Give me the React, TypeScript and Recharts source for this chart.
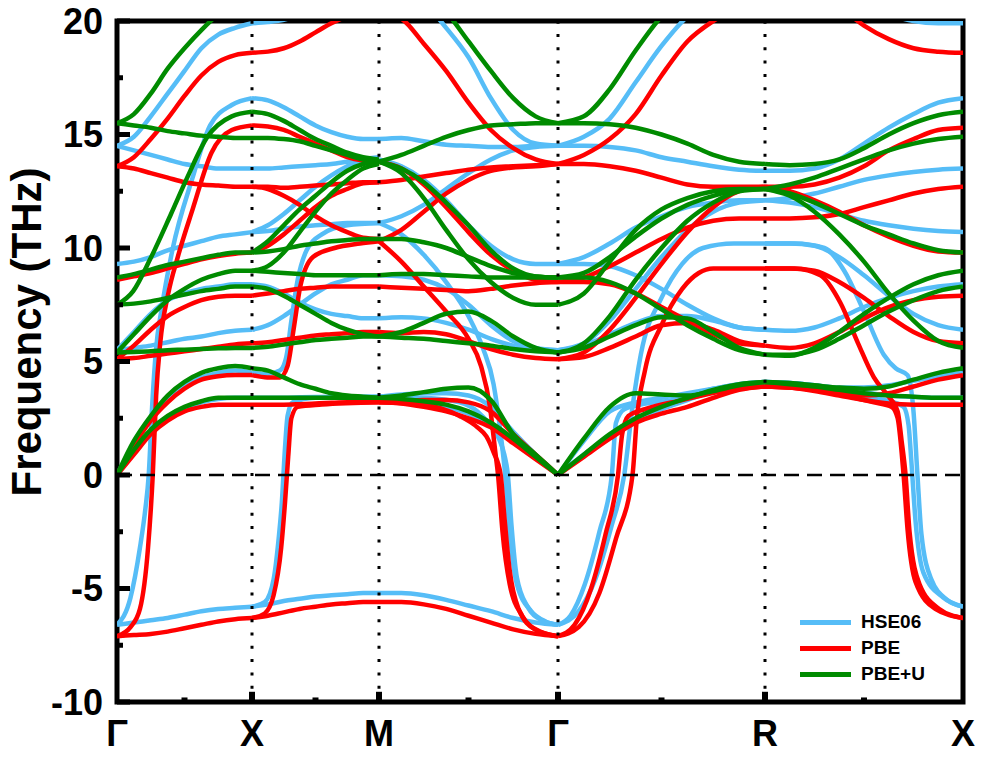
import React from "react";
import { LineChart, Line, XAxis, YAxis, ReferenceLine, ReferenceArea } from "recharts";

type Curve = number[] | [number, number][];

// high-symmetry path (k-distance along path) and labels
const PATH_LABELS = ["Γ", "X", "M", "Γ", "R", "X"];
const PATH_K = [0, 135, 262, 441, 648, 846];
const Y_TICKS = [-10, -5, 0, 5, 10, 15, 20];
const Y_MINOR = [-7.5, -2.5, 2.5, 7.5, 12.5, 17.5];

const METHODS = ["HSE06", "PBE", "PBE+U"];
const COLORS = ["#56bdf7", "#ff0000", "#008b00"];

// curves per segment: plain list = evenly spaced along the segment,
// pairs = [fraction of segment, frequency]

// ---- HSE06 ----
const hseGX: Curve[] = [
  [14.5, 14.9, 15.8, 16.8, 17.8, 18.8, 19.4, 19.7, 19.9],
  [14.5, 14.3, 14.1, 13.9, 13.7, 13.6, 13.5, 13.5, 13.5],
  [9.3, 9.4, 9.6, 9.9, 10.1, 10.3, 10.5, 10.6, 10.7],
  [[0, -6.6], [0.1, -5.4], [0.17, -3.2], [0.21, -1.5], [0.235, 0], [0.26, 3.0], [0.29, 5.6], [0.33, 7.3], [0.41, 9.9], [0.56, 13.1], [0.69, 15.4], [0.85, 16.3], [1, 16.6]],
  [5.5, 6.3, 7.1, 7.7, 8.0, 8.2, 8.3, 8.4, 8.4],
  [5.5, 5.6, 5.7, 5.85, 6.0, 6.1, 6.25, 6.35, 6.4],
  [0, 1.4, 2.5, 3.3, 3.9, 4.3, 4.5, 4.6, 4.5],
  [0, 1.0, 1.9, 2.5, 2.9, 3.2, 3.35, 3.4, 3.4],
  [-6.6, -6.5, -6.4, -6.3, -6.15, -6.0, -5.9, -5.85, -5.8],
];
const hseXM: Curve[] = [
  [19.9, 19.95, 20.05, 20.3, 20.6, 20.9, 21.1, 21.25, 21.3],
  [16.6, 16.5, 16.2, 15.8, 15.4, 15.1, 14.9, 14.8, 14.8],
  [13.5, 13.5, 13.55, 13.6, 13.65, 13.7, 13.8, 13.9, 13.9],
  [10.7, 10.75, 10.85, 10.95, 11.0, 11.05, 11.1, 11.1, 11.1],
  [10.7, 11.0, 11.5, 12.1, 12.7, 13.2, 13.6, 13.9, 14.0],
  [8.4, 8.3, 8.0, 7.6, 7.3, 7.1, 7.0, 6.9, 6.9],
  [6.4, 6.6, 7.0, 7.5, 8.0, 8.4, 8.6, 8.8, 8.8],
  [[0, 4.5], [0.12, 4.45], [0.22, 4.6], [0.27, 5.2], [0.31, 6.8], [0.36, 8.6], [0.43, 9.9], [0.55, 10.6], [0.75, 11.0], [1, 11.1]],
  [3.4, 3.4, 3.4, 3.42, 3.44, 3.45, 3.45, 3.45, 3.45],
  [[0, -5.8], [0.1, -5.6], [0.17, -4.6], [0.21, -2.8], [0.235, -1.2], [0.26, 1.2], [0.28, 2.6], [0.32, 3.2], [0.5, 3.4], [1, 3.45]],
  [-5.8, -5.7, -5.55, -5.45, -5.35, -5.3, -5.25, -5.2, -5.2],
];
const hseMG: Curve[] = [
  [21.3, 21.2, 20.8, 19.7, 18.4, 16.6, 15.2, 14.6, 14.5],
  [14.8, 14.85, 14.7, 14.55, 14.5, 14.45, 14.45, 14.5, 14.5],
  [11.1, 11.4, 11.9, 12.6, 13.3, 13.9, 14.3, 14.45, 14.5],
  [13.9, 13.6, 13.0, 12.1, 11.0, 10.1, 9.5, 9.3, 9.3],
  [[0, 11.1], [0.125, 10.6], [0.25, 9.7], [0.375, 8.5], [0.5, 7.0], [0.58, 5.6], [0.64, 4.0], [0.68, 1.8], [0.705, 0], [0.73, -2.5], [0.77, -4.8], [0.85, -6.0], [0.93, -6.45], [1, -6.6]],
  [8.8, 8.75, 8.6, 8.2, 7.5, 6.6, 5.9, 5.6, 5.5],
  [6.9, 6.95, 6.9, 6.7, 6.4, 6.0, 5.7, 5.55, 5.5],
  [3.45, 3.55, 3.6, 3.6, 3.5, 3.0, 1.9, 0.9, 0],
  [3.45, 3.35, 3.2, 3.0, 2.7, 2.2, 1.5, 0.75, 0],
  [[0, 3.45], [0.25, 3.4], [0.45, 3.2], [0.55, 2.8], [0.62, 2.2], [0.67, 1.6], [0.7, 0.9], [0.72, 0], [0.74, -2.2], [0.77, -4.5], [0.83, -5.8], [0.91, -6.4], [1, -6.6]],
  [-5.2, -5.2, -5.3, -5.5, -5.75, -6.0, -6.3, -6.5, -6.6],
];
const hseGR: Curve[] = [
  [14.5, 14.9, 15.7, 17.3, 18.9, 20.2, 21.0, 21.5, 21.7],
  [14.5, 14.5, 14.45, 14.3, 14.0, 13.8, 13.6, 13.45, 13.4],
  [9.3, 9.6, 10.2, 10.9, 11.4, 11.8, 12.0, 12.1, 12.1],
  [9.3, 9.3, 9.2, 8.8, 8.2, 7.5, 6.9, 6.5, 6.4],
  [5.5, 5.7, 6.2, 6.7, 7.0, 7.0, 6.8, 6.5, 6.4],
  [5.5, 5.8, 6.8, 8.2, 9.6, 10.8, 11.6, 12.0, 12.1],
  [[0, -6.6], [0.1, -6.0], [0.18, -4.6], [0.26, -2.2], [0.32, 0], [0.36, 3.0], [0.4, 5.3], [0.5, 7.8], [0.6, 9.3], [0.7, 10.0], [0.85, 10.2], [1, 10.2]],
  [[0, -6.6], [0.06, -6.2], [0.13, -4.8], [0.2, -2.5], [0.26, 0], [0.28, 2.3], [0.32, 2.9], [0.4, 3.1], [0.55, 3.3], [0.75, 3.8], [1, 4.1]],
  [0, 1.5, 2.8, 3.2, 3.4, 3.6, 3.8, 4.0, 4.1],
  [0, 0.9, 1.7, 2.4, 2.9, 3.3, 3.7, 4.0, 4.1],
];
const hseRX: Curve[] = [
  [21.7, 21.7, 21.5, 21.2, 20.8, 20.3, 20.0, 19.9, 19.9],
  [13.4, 13.4, 13.5, 13.9, 14.6, 15.3, 15.9, 16.4, 16.6],
  [12.1, 12.2, 12.4, 12.7, 13.0, 13.2, 13.35, 13.45, 13.5],
  [12.1, 12.0, 11.8, 11.5, 11.2, 11.0, 10.85, 10.75, 10.7],
  [6.4, 6.35, 6.5, 6.9, 7.4, 7.8, 8.1, 8.3, 8.4],
  [10.2, 10.2, 10.1, 9.6, 8.8, 7.9, 7.1, 6.6, 6.4],
  [[0, 10.2], [0.15, 10.2], [0.3, 10.0], [0.4, 9.0], [0.5, 7.2], [0.6, 5.3], [0.66, 4.7], [0.72, 4.4], [0.75, 2.8], [0.77, 0], [0.79, -2.6], [0.84, -4.6], [0.92, -5.5], [1, -5.8]],
  [[0, 4.1], [0.2, 4.0], [0.4, 3.7], [0.55, 3.4], [0.65, 3.2], [0.7, 3.0], [0.725, 2.2], [0.74, 0.5], [0.76, -2], [0.8, -4.3], [0.9, -5.4], [1, -5.8]],
  [4.1, 4.05, 3.95, 3.8, 3.65, 3.5, 3.45, 3.4, 3.4],
  [4.1, 4.05, 3.95, 3.85, 3.85, 3.95, 4.15, 4.35, 4.5],
];

// ---- PBE ----
const pbeGX: Curve[] = [
  [13.6, 14.0, 14.8, 15.7, 16.7, 17.6, 18.2, 18.5, 18.6],
  [13.6, 13.5, 13.3, 13.1, 12.9, 12.8, 12.75, 12.7, 12.7],
  [8.6, 8.75, 8.9, 9.1, 9.3, 9.5, 9.65, 9.75, 9.8],
  [[0, -7.1], [0.1, -6.7], [0.17, -5.9], [0.23, -3.2], [0.265, 0], [0.29, 3.5], [0.32, 5.8], [0.38, 8.0], [0.45, 9.6], [0.56, 11.7], [0.7, 14.2], [0.85, 15.2], [1, 15.4]],
  [5.1, 5.7, 6.4, 7.0, 7.4, 7.7, 7.85, 7.9, 7.9],
  [5.1, 5.15, 5.25, 5.35, 5.45, 5.55, 5.65, 5.75, 5.8],
  [0, 1.3, 2.4, 3.2, 3.8, 4.2, 4.35, 4.4, 4.4],
  [0, 0.9, 1.8, 2.4, 2.8, 3.0, 3.1, 3.1, 3.1],
  [-7.1, -7.05, -7.0, -6.9, -6.75, -6.6, -6.45, -6.35, -6.3],
];
const pbeXM: Curve[] = [
  [18.6, 18.65, 18.8, 19.1, 19.5, 19.9, 20.2, 20.35, 20.4],
  [15.4, 15.35, 15.2, 14.9, 14.6, 14.3, 14.0, 13.85, 13.8],
  [12.7, 12.7, 12.65, 12.7, 12.75, 12.8, 12.85, 12.9, 12.9],
  [9.8, 10.1, 10.6, 11.2, 11.8, 12.3, 12.6, 12.85, 12.9],
  [12.7, 12.6, 12.3, 11.9, 11.4, 11.0, 10.7, 10.45, 10.4],
  [7.9, 8.0, 8.1, 8.2, 8.25, 8.3, 8.3, 8.3, 8.3],
  [5.8, 5.85, 5.95, 6.05, 6.15, 6.2, 6.25, 6.3, 6.3],
  [[0, 4.4], [0.12, 4.3], [0.22, 4.3], [0.28, 4.8], [0.33, 6.5], [0.38, 8.3], [0.48, 9.6], [0.65, 10.0], [0.85, 10.2], [1, 10.3]],
  [3.1, 3.1, 3.1, 3.12, 3.15, 3.18, 3.2, 3.2, 3.2],
  [[0, -6.3], [0.1, -6.1], [0.17, -5.3], [0.23, -3.2], [0.26, -1.2], [0.285, 0.8], [0.31, 2.5], [0.36, 3.0], [0.55, 3.1], [1, 3.2]],
  [-6.3, -6.2, -6.05, -5.9, -5.8, -5.7, -5.65, -5.6, -5.6],
];
const pbeMG: Curve[] = [
  [20.4, 20.1, 19.0, 17.8, 16.4, 15.2, 14.4, 13.9, 13.7],
  [12.9, 13.0, 13.15, 13.3, 13.45, 13.55, 13.6, 13.65, 13.7],
  [13.8, 13.5, 12.8, 11.8, 10.7, 9.7, 9.0, 8.6, 8.5],
  [10.3, 10.8, 11.6, 12.4, 13.0, 13.4, 13.55, 13.6, 13.7],
  [[0, 10.3], [0.125, 9.4], [0.25, 8.3], [0.375, 7.2], [0.5, 6.0], [0.57, 4.8], [0.62, 3.0], [0.65, 1.0], [0.665, 0], [0.69, -2.5], [0.73, -4.8], [0.8, -6.2], [0.9, -6.9], [1, -7.1]],
  [[0, 3.2], [0.25, 3.1], [0.45, 2.6], [0.55, 2.1], [0.6, 1.7], [0.64, 1.0], [0.68, 0], [0.7, -1.8], [0.73, -4.2], [0.78, -5.9], [0.87, -6.8], [1, -7.1]],
  [8.3, 8.25, 8.2, 8.15, 8.1, 8.2, 8.35, 8.45, 8.5],
  [6.3, 6.25, 6.3, 6.2, 5.9, 5.55, 5.3, 5.15, 5.1],
  [3.2, 3.25, 3.3, 3.3, 3.2, 2.8, 1.8, 0.9, 0],
  [3.2, 3.15, 3.0, 2.8, 2.5, 2.1, 1.4, 0.7, 0],
  [-5.6, -5.6, -5.7, -5.9, -6.2, -6.5, -6.8, -7.0, -7.1],
];
const pbeGR: Curve[] = [
  [13.7, 14.1, 14.8, 15.9, 17.6, 19.1, 20.0, 20.6, 21.0],
  [13.7, 13.7, 13.6, 13.4, 13.1, 12.8, 12.7, 12.7, 12.7],
  [8.5, 8.7, 9.2, 9.8, 10.4, 10.9, 11.2, 11.3, 11.3],
  [8.5, 8.5, 8.4, 8.0, 7.4, 6.8, 6.2, 5.8, 5.7],
  [5.1, 5.2, 5.6, 6.1, 6.6, 6.7, 6.4, 5.9, 5.7],
  [5.1, 5.4, 6.4, 7.8, 9.3, 10.7, 11.8, 12.5, 12.7],
  [[0, -7.1], [0.1, -6.7], [0.2, -5.2], [0.28, -2.8], [0.36, 0], [0.38, 2.4], [0.42, 4.6], [0.5, 6.6], [0.6, 8.2], [0.68, 8.9], [0.75, 9.1], [1, 9.1]],
  [[0, -7.1], [0.08, -6.6], [0.16, -5.0], [0.23, -2.6], [0.29, 0], [0.31, 1.8], [0.34, 2.6], [0.42, 2.9], [0.6, 3.3], [0.8, 3.7], [1, 3.9]],
  [0, 0.8, 1.6, 2.3, 2.7, 3.0, 3.4, 3.75, 3.9],
];
const pbeRX: Curve[] = [
  [21.0, 21.2, 21.1, 20.6, 19.8, 19.2, 18.8, 18.65, 18.6],
  [12.7, 12.7, 12.8, 13.1, 13.6, 14.3, 14.8, 15.2, 15.3],
  [11.3, 11.3, 11.35, 11.5, 11.8, 12.1, 12.4, 12.6, 12.7],
  [12.7, 12.5, 12.1, 11.6, 11.0, 10.5, 10.1, 9.85, 9.8],
  [5.7, 5.6, 5.8, 6.3, 6.9, 7.4, 7.7, 7.85, 7.9],
  [9.1, 9.1, 9.0, 8.5, 7.8, 7.0, 6.3, 5.9, 5.8],
  [[0, 9.1], [0.15, 9.1], [0.28, 8.8], [0.38, 7.6], [0.47, 5.8], [0.55, 4.3], [0.62, 3.5], [0.67, 2.8], [0.69, 1.5], [0.71, 0], [0.73, -2.5], [0.78, -4.8], [0.88, -5.9], [1, -6.3]],
  [[0, 3.9], [0.2, 3.8], [0.4, 3.5], [0.55, 3.2], [0.64, 3.0], [0.67, 2.5], [0.69, 1.0], [0.7, 0], [0.72, -2.4], [0.76, -4.7], [0.86, -5.9], [1, -6.3]],
  [3.9, 3.85, 3.7, 3.5, 3.3, 3.15, 3.1, 3.1, 3.1],
  [3.9, 3.85, 3.75, 3.6, 3.5, 3.6, 3.9, 4.2, 4.4],
];

// ---- PBE+U ----
const pbeuGX: Curve[] = [
  [15.5, 15.9, 16.8, 17.9, 18.8, 19.6, 20.3, 20.8, 21.0],
  [15.5, 15.4, 15.3, 15.15, 15.05, 14.95, 14.9, 14.85, 14.85],
  [[0, 7.5], [0.12, 8.1], [0.245, 9.5], [0.4, 11.5], [0.52, 13.1], [0.67, 14.9], [0.85, 15.8], [1, 16.0]],
  [8.7, 8.85, 9.05, 9.25, 9.4, 9.55, 9.7, 9.8, 9.8],
  [7.5, 7.55, 7.65, 7.8, 7.95, 8.1, 8.2, 8.3, 8.3],
  [5.4, 6.2, 7.0, 7.7, 8.2, 8.6, 8.85, 9.0, 9.0],
  [5.4, 5.42, 5.45, 5.5, 5.52, 5.55, 5.58, 5.6, 5.6],
  [0, 1.5, 2.6, 3.5, 4.1, 4.5, 4.7, 4.8, 4.7],
  [0, 1.1, 2.0, 2.6, 3.0, 3.25, 3.4, 3.4, 3.4],
];
const pbeuXM: Curve[] = [
  [21.0, 21.1, 21.3, 21.5, 21.6, 21.6, 21.6, 21.5, 21.5],
  [16.0, 15.9, 15.6, 15.2, 14.8, 14.5, 14.2, 14.0, 13.9],
  [14.85, 14.85, 14.8, 14.7, 14.5, 14.3, 14.1, 13.9, 13.8],
  [9.8, 10.3, 11.0, 11.7, 12.3, 12.9, 13.4, 13.7, 13.8],
  [9.0, 9.2, 9.8, 10.7, 11.6, 12.4, 13.0, 13.5, 13.7],
  [9.8, 9.85, 9.95, 10.1, 10.2, 10.3, 10.35, 10.4, 10.4],
  [9.0, 8.95, 8.9, 8.85, 8.8, 8.8, 8.8, 8.8, 8.8],
  [8.3, 8.2, 7.9, 7.5, 7.1, 6.7, 6.4, 6.2, 6.1],
  [5.6, 5.65, 5.75, 5.85, 5.95, 6.0, 6.05, 6.1, 6.1],
  [4.7, 4.6, 4.3, 4.0, 3.8, 3.6, 3.5, 3.45, 3.4],
  [3.4, 3.4, 3.4, 3.4, 3.4, 3.4, 3.4, 3.4, 3.4],
];
const pbeuMG: Curve[] = [
  [21.5, 21.5, 21.3, 20.4, 19.1, 17.8, 16.6, 15.8, 15.5],
  [13.8, 14.1, 14.5, 14.9, 15.2, 15.4, 15.45, 15.5, 15.5],
  [13.8, 13.3, 12.2, 10.8, 9.5, 8.5, 7.8, 7.5, 7.5],
  [13.8, 13.5, 12.9, 12.0, 11.0, 9.9, 9.1, 8.75, 8.7],
  [10.4, 10.4, 10.25, 10.0, 9.6, 9.2, 8.9, 8.75, 8.7],
  [8.8, 8.85, 8.85, 8.8, 8.75, 8.7, 8.7, 8.7, 8.7],
  [6.1, 6.3, 6.7, 7.1, 7.2, 6.8, 6.1, 5.6, 5.4],
  [6.1, 6.05, 6.0, 5.9, 5.8, 5.7, 5.55, 5.45, 5.4],
  [3.4, 3.5, 3.65, 3.8, 3.85, 3.3, 1.8, 0.9, 0],
  [3.4, 3.35, 3.25, 3.1, 2.8, 2.3, 1.6, 0.8, 0],
];
const pbeuGR: Curve[] = [
  [15.5, 15.8, 17.0, 18.7, 20.2, 21.2, 21.6, 21.7, 21.7],
  [15.5, 15.5, 15.45, 15.3, 15.0, 14.6, 14.1, 13.8, 13.7],
  [7.5, 8.0, 9.4, 10.8, 11.7, 12.2, 12.5, 12.6, 12.6],
  [8.7, 8.9, 9.6, 10.5, 11.3, 11.9, 12.3, 12.55, 12.6],
  [8.7, 8.7, 8.5, 8.0, 7.3, 6.6, 6.0, 5.5, 5.3],
  [5.4, 5.6, 6.1, 6.6, 6.95, 6.9, 6.3, 5.6, 5.3],
  [5.4, 5.8, 7.0, 8.6, 10.0, 11.2, 12.0, 12.5, 12.6],
  [0, 1.6, 3.0, 3.6, 3.55, 3.5, 3.7, 3.95, 4.1],
  [0, 0.9, 1.8, 2.5, 3.0, 3.4, 3.75, 4.0, 4.1],
];
const pbeuRX: Curve[] = [
  [13.7, 13.65, 13.7, 13.9, 14.4, 15.0, 15.5, 15.85, 16.0],
  [12.6, 12.8, 13.1, 13.5, 13.9, 14.3, 14.6, 14.8, 14.9],
  [12.6, 12.4, 12.0, 11.5, 11.0, 10.6, 10.2, 9.9, 9.8],
  [12.6, 12.3, 11.6, 10.6, 9.4, 8.0, 6.8, 5.9, 5.6],
  [5.3, 5.25, 5.6, 6.3, 7.1, 7.8, 8.4, 8.8, 9.0],
  [5.3, 5.3, 5.5, 6.0, 6.6, 7.2, 7.7, 8.1, 8.3],
  [4.1, 4.05, 3.95, 3.85, 3.8, 3.9, 4.2, 4.5, 4.7],
  [4.1, 4.0, 3.9, 3.75, 3.6, 3.5, 3.45, 3.4, 3.4],
];

const BANDS = [
  [hseGX, hseXM, hseMG, hseGR, hseRX],
  [pbeGX, pbeXM, pbeMG, pbeGR, pbeRX],
  [pbeuGX, pbeuXM, pbeuMG, pbeuGR, pbeuRX],
];

function toPoints(curve: Curve, seg: number) {
  const k0 = PATH_K[seg];
  const k1 = PATH_K[seg + 1];
  if (typeof curve[0] === "number") {
    const vals = curve as number[];
    return vals.map((f, i) => ({ k: k0 + ((k1 - k0) * i) / (vals.length - 1), f }));
  }
  return (curve as [number, number][]).map(([t, f]) => ({ k: k0 + (k1 - k0) * t, f }));
}

const series = BANDS.flatMap((segs, m) =>
  segs.flatMap((curves, s) =>
    curves.map((c, i) => ({ id: `${m}-${s}-${i}`, color: COLORS[m], data: toPoints(c, s) }))
  )
);

const FONT = "'Liberation Sans', Arial, Helvetica, sans-serif";
const tickStyle = { fontSize: 36, fontWeight: 700, fill: "#000", fontFamily: FONT };

export default function App() {
  const inner = PATH_K.slice(1, -1);
  const mids = PATH_K.slice(0, -1).map((k, i) => (k + PATH_K[i + 1]) / 2);
  return (
    <div style={{ position: "absolute", left: 0, top: 0, width: 996, height: 766, background: "#fff" }}>
      <LineChart width={996} height={766} margin={{ top: 21, right: 33, bottom: 4, left: 57 }}>
        <XAxis
          type="number"
          dataKey="k"
          domain={[0, 846]}
          ticks={PATH_K}
          interval={0}
          allowDataOverflow
          tickFormatter={(v: number) => PATH_LABELS[PATH_K.indexOf(v)]}
          axisLine={false}
          tickLine={false}
          tickSize={0}
          tickMargin={18}
          height={60}
          tick={tickStyle}
        />
        <YAxis
          type="number"
          domain={[-10, 20]}
          ticks={Y_TICKS}
          interval={0}
          allowDataOverflow
          axisLine={false}
          tickLine={false}
          tickSize={0}
          tickMargin={14}
          width={60}
          tick={tickStyle}
        />
        {series.map((s) => (
          <Line
            key={s.id}
            data={s.data}
            dataKey="f"
            type="monotone"
            stroke={s.color}
            strokeWidth={4.5}
            dot={false}
            activeDot={false}
            legendType="none"
            isAnimationActive={false}
          />
        ))}
        {inner.map((k) => (
          <ReferenceLine key={`v${k}`} x={k} stroke="#000" strokeWidth={3} strokeDasharray="3 10.3" />
        ))}
        <ReferenceLine y={0} stroke="#000" strokeWidth={2.5} strokeDasharray="15 8" />
        {Y_TICKS.map((v) => (
          <ReferenceLine key={`ym${v}`} segment={[{ x: 0, y: v }, { x: 13, y: v }]} stroke="#000" strokeWidth={5} />
        ))}
        {Y_MINOR.map((v) => (
          <ReferenceLine key={`yn${v}`} segment={[{ x: 0, y: v }, { x: 6, y: v }]} stroke="#000" strokeWidth={5} />
        ))}
        {inner.map((k) => (
          <ReferenceLine key={`xm${k}`} segment={[{ x: k, y: -10 }, { x: k, y: -9.55 }]} stroke="#000" strokeWidth={6} />
        ))}
        {mids.map((k) => (
          <ReferenceLine key={`xn${k}`} segment={[{ x: k, y: -10 }, { x: k, y: -9.8 }]} stroke="#000" strokeWidth={6} />
        ))}
        <ReferenceArea x1={0} x2={846} y1={-10} y2={20} fill="none" stroke="#000" strokeWidth={5} />
      </LineChart>
      <div style={{ position: "absolute", left: 800, top: 609, fontFamily: FONT, fontWeight: 700, fontSize: 19 }}>
        {METHODS.map((m, i) => (
          <div key={m} style={{ display: "flex", alignItems: "center", height: 26 }}>
            <div style={{ width: 51, height: 5, background: COLORS[i], marginRight: 10 }} />
            <span>{m}</span>
          </div>
        ))}
      </div>
      <div
        style={{
          position: "absolute",
          left: 27,
          top: 332,
          transform: "translate(-50%, -50%) rotate(-90deg)",
          fontFamily: FONT,
          fontWeight: 700,
          fontSize: 42,
          whiteSpace: "nowrap",
        }}
      >
        Frequency (THz)
      </div>
    </div>
  );
}
